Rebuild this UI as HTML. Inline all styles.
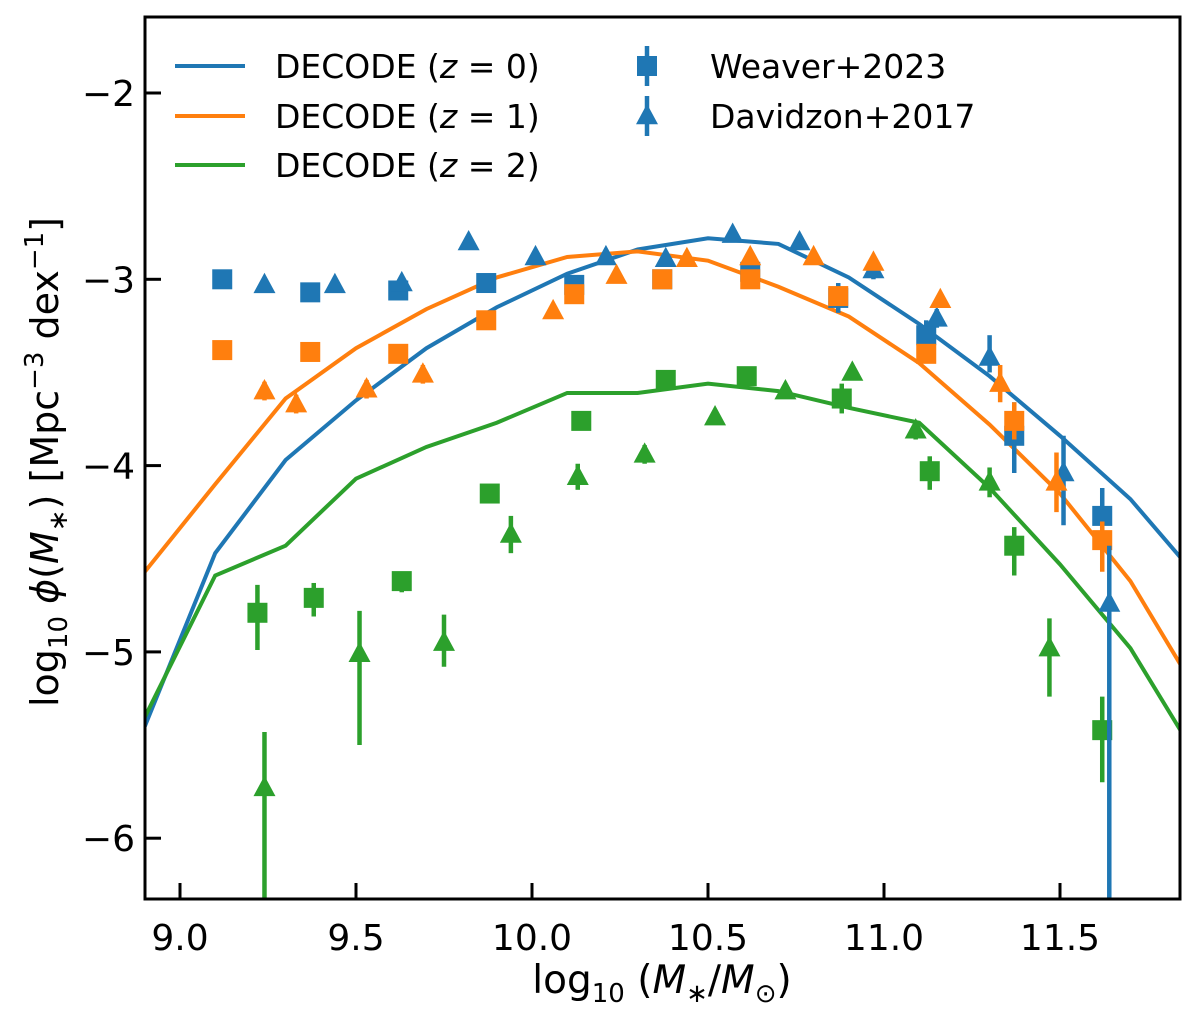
<!DOCTYPE html>
<html><head><meta charset="utf-8"><style>
body{margin:0;background:#fff}
svg{display:block;font-family:"DejaVu Sans","Liberation Sans",sans-serif}
</style></head><body>
<svg id="chart" width="1200" height="1023">
<defs><clipPath id="clip"><rect x="145" y="17" width="1035" height="882"/></clipPath></defs>
<rect x="0" y="0" width="1200" height="1023" fill="#fff"/>
<g id="plot" clip-path="url(#clip)"></g>
<g id="axes"></g>
<g id="legend"></g>
</svg>
<script>
const lineX=[8.9,9.1,9.3,9.5,9.7,9.9,10.1,10.3,10.5,10.7,10.9,11.1,11.3,11.5,11.7,11.9];
const lineZ0=[-5.4,-4.47,-3.97,-3.65,-3.37,-3.15,-2.97,-2.84,-2.78,-2.81,-2.99,-3.24,-3.52,-3.84,-4.18,-4.62];
const lineZ1=[-4.57,-4.1,-3.64,-3.37,-3.16,-2.99,-2.88,-2.85,-2.9,-3.04,-3.2,-3.45,-3.78,-4.15,-4.62,-5.25];
const lineZ2=[-5.35,-4.59,-4.43,-4.07,-3.9,-3.77,-3.61,-3.61,-3.56,-3.6,-3.69,-3.77,-4.12,-4.53,-4.98,-5.6];

const wX0=[9.12,9.37,9.62,9.87,10.12,10.37,10.62,10.87,11.12,11.37,11.62];
const wY0=[-3.0,-3.07,-3.06,-3.02,-3.03,-3.0,-2.96,-3.1,-3.3,-3.84,-4.27];
const wLo0=[0.04,0.04,0.05,0.05,0.05,0.05,0.05,0.08,0.08,0.2,0.15];
const wHi0=[0.04,0.04,0.05,0.05,0.05,0.05,0.05,0.08,0.08,0.18,0.15];
const wX1=[9.12,9.37,9.62,9.87,10.12,10.37,10.62,10.87,11.12,11.37,11.62];
const wY1=[-3.38,-3.39,-3.4,-3.22,-3.08,-3.0,-3.0,-3.09,-3.4,-3.76,-4.4];
const wLo1=[0.03,0.03,0.04,0.04,0.04,0.04,0.04,0.05,0.05,0.1,0.17];
const wHi1=[0.03,0.03,0.04,0.04,0.04,0.04,0.04,0.05,0.05,0.1,0.1];
const wX2=[9.22,9.38,9.63,9.88,10.14,10.38,10.61,10.88,11.13,11.37,11.62];
const wY2=[-4.79,-4.71,-4.62,-4.15,-3.76,-3.54,-3.52,-3.64,-4.03,-4.43,-5.42];
const wLo2=[0.2,0.1,0.06,0.05,0.05,0.05,0.05,0.08,0.1,0.16,0.28];
const wHi2=[0.15,0.08,0.05,0.05,0.05,0.05,0.05,0.08,0.08,0.1,0.18];

const dX0=[9.24,9.44,9.63,9.82,10.01,10.21,10.38,10.57,10.76,10.97,11.15,11.3,11.51,11.64];
const dY0=[-3.03,-3.03,-3.02,-2.8,-2.88,-2.88,-2.89,-2.76,-2.8,-2.95,-3.21,-3.42,-4.04,-4.74];
const dLo0=[0.03,0.03,0.03,0.03,0.03,0.03,0.03,0.03,0.04,0.05,0.05,0.08,0.28,2.0];
const dHi0=[0.03,0.03,0.03,0.03,0.03,0.03,0.03,0.03,0.04,0.05,0.05,0.12,0.2,0.31];
const dX1=[9.24,9.33,9.53,9.69,10.06,10.24,10.44,10.62,10.8,10.97,11.16,11.33,11.49];
const dY1=[-3.6,-3.67,-3.59,-3.51,-3.17,-2.98,-2.89,-2.88,-2.88,-2.91,-3.11,-3.56,-4.09];
const dLo1=[0.05,0.05,0.05,0.05,0.03,0.03,0.03,0.03,0.03,0.03,0.04,0.1,0.16];
const dHi1=[0.05,0.05,0.05,0.05,0.03,0.03,0.03,0.03,0.03,0.03,0.04,0.1,0.16];
const dX2=[9.24,9.51,9.75,9.94,10.13,10.32,10.52,10.72,10.91,11.09,11.3,11.47];
const dY2=[-5.73,-5.01,-4.95,-4.37,-4.06,-3.94,-3.74,-3.6,-3.5,-3.81,-4.09,-4.98];
const dLo2=[1.0,0.49,0.13,0.1,0.07,0.05,0.04,0.04,0.04,0.05,0.08,0.26];
const dHi2=[0.3,0.23,0.15,0.1,0.07,0.05,0.04,0.04,0.04,0.05,0.08,0.16];

const xTicks=[9.0,9.5,10.0,10.5,11.0,11.5];
const xTickLabels=["9.0","9.5","10.0","10.5","11.0","11.5"];
const yTicks=[-2,-3,-4,-5,-6];
const yTickLabels=["\u22122","\u22123","\u22124","\u22125","\u22126"];

const C=["#1f77b4","#ff7f0e","#2ca02c"];
const NS="http://www.w3.org/2000/svg";
const sx=v=>180+(v-9)*352;
const sy=v=>93+(-2-v)*186.3;
function mk(tag,attrs,parent){const e=document.createElementNS(NS,tag);for(const k in attrs)e.setAttribute(k,attrs[k]);parent.appendChild(e);return e;}
const plot=document.getElementById('plot'),axes=document.getElementById('axes'),leg=document.getElementById('legend');

function drawLine(ys,col,name){
  const p=mk('polyline',{points:lineX.map((x,i)=>sx(x)+','+sy(ys[i])).join(' '),fill:'none',stroke:col,'stroke-width':4,'stroke-linejoin':'miter'},plot);
  
  
}
function tri(cx,cy,s){return `${cx},${cy-s*1.1} ${cx-s},${cy+s*0.75} ${cx+s},${cy+s*0.75}`;}
function drawPts(xs,ys,lo,hi,col,shape,name){
  xs.forEach((x,i)=>{
    const cx=sx(x),cy=sy(ys[i]);
    const g=mk('g',{},plot);
    
    
    mk('line',{x1:cx,x2:cx,y1:sy(ys[i]+hi[i]),y2:sy(ys[i]-lo[i]),stroke:col,'stroke-width':4.5},g);
    if(shape==='s') mk('rect',{x:cx-10,y:cy-10,width:20,height:20,fill:col},g);
    else mk('polygon',{points:tri(cx,cy,11),fill:col},g);
  });
}
drawLine(lineZ0,C[0],'decode-z0-line');
drawLine(lineZ1,C[1],'decode-z1-line');
drawLine(lineZ2,C[2],'decode-z2-line');
drawPts(wX0,wY0,wLo0,wHi0,C[0],'s','weaver-z0-point');
drawPts(wX1,wY1,wLo1,wHi1,C[1],'s','weaver-z1-point');
drawPts(wX2,wY2,wLo2,wHi2,C[2],'s','weaver-z2-point');
drawPts(dX0,dY0,dLo0,dHi0,C[0],'t','davidzon-z0-point');
drawPts(dX1,dY1,dLo1,dHi1,C[1],'t','davidzon-z1-point');
drawPts(dX2,dY2,dLo2,dHi2,C[2],'t','davidzon-z2-point');

const fr=mk('rect',{x:145,y:17,width:1035,height:882,fill:'none',stroke:'#000','stroke-width':3},axes);


xTicks.forEach((v,i)=>{
  const x=sx(v);
  const t=mk('line',{x1:x,x2:x,y1:899,y2:883,stroke:'#000','stroke-width':3},axes);
  
  
  const l=mk('text',{x:x,y:950,'font-size':36,'text-anchor':'middle'},axes);
  l.textContent=xTickLabels[i];
  
  
});
yTicks.forEach((v,i)=>{
  const y=sy(v);
  const t=mk('line',{x1:145,x2:161,y1:y,y2:y,stroke:'#000','stroke-width':3},axes);
  
  
  const l=mk('text',{x:135,y:y+13,'font-size':36,'text-anchor':'end'},axes);
  l.textContent=yTickLabels[i];
  
  
});
const xl=mk('text',{x:662,y:993,'font-size':39,'text-anchor':'middle'},axes);
xl.innerHTML='log<tspan font-size="26" dy="9">10</tspan><tspan dy="-9"> (</tspan><tspan font-style="italic">M</tspan><tspan font-size="26" dy="9">∗</tspan><tspan dy="-9">/</tspan><tspan font-style="italic">M</tspan><tspan font-size="26" dy="9">⊙</tspan><tspan dy="-9">)</tspan>';


const yl=mk('text',{x:0,y:0,'font-size':38,'text-anchor':'middle',transform:'translate(58,462) rotate(-90)'},axes);
yl.innerHTML='log<tspan font-size="26" dy="9">10</tspan><tspan dy="-9" font-style="italic"> ϕ</tspan><tspan>(</tspan><tspan font-style="italic">M</tspan><tspan font-size="26" dy="9">∗</tspan><tspan dy="-9">) [Mpc</tspan><tspan font-size="26" dy="-15">−3</tspan><tspan dy="15"> dex</tspan><tspan font-size="26" dy="-15">−1</tspan><tspan dy="15">]</tspan>';



const legLines=[["0",66],["1",116],["2",165]];
legLines.forEach((d,i)=>{
  const g=mk('g',{},leg);
  
  
  mk('line',{x1:175,x2:245,y1:d[1],y2:d[1],stroke:C[i],'stroke-width':4},g);
  const t=mk('text',{x:275,y:d[1]+12,'font-size':33},g);
  t.innerHTML='DECODE (<tspan font-style="italic">z</tspan> = <tspan>'+d[0]+'</tspan>)';
});
[["Weaver+2023",'s',66],["Davidzon+2017",'t',116]].forEach(d=>{
  const g=mk('g',{},leg);
  
  
  mk('line',{x1:647,x2:647,y1:d[2]-20,y2:d[2]+20,stroke:C[0],'stroke-width':4.5},g);
  if(d[1]==='s') mk('rect',{x:637,y:d[2]-10,width:20,height:20,fill:C[0]},g);
  else mk('polygon',{points:tri(647,d[2],11),fill:C[0]},g);
  const t=mk('text',{x:710,y:d[2]+12,'font-size':33},g);
  t.textContent=d[0];
});
</script>
</body></html>
